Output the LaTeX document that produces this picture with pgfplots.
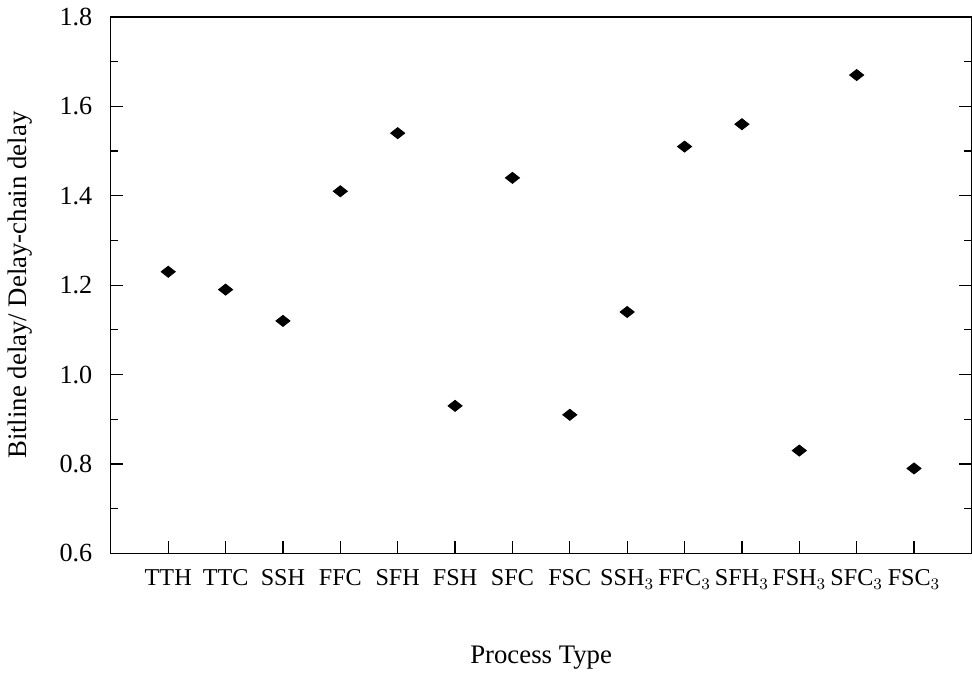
\documentclass[border=0pt]{standalone}
\usepackage{fontspec}
\setmainfont{Liberation Serif}
\usepackage{pgfplots}
\pgfplotsset{compat=1.18}

\begin{document}
\fontsize{12}{14}\selectfont
\begin{tikzpicture}
\begin{axis}[
    scale only axis,
    width=427.5pt, height=266.5pt,
    xmin=0, xmax=15,
    ymin=0.6, ymax=1.8,
    xtick={1,...,14},
    xticklabels={TTH,TTC,SSH,FFC,SFH,FSH,SFC,FSC,SSH$_3$,FFC$_3$,SFH$_3$,FSH$_3$,SFC$_3$,FSC$_3$},
    xtick pos=bottom,
    ytick={0.6,0.8,...,1.81},
    minor ytick={0.7,0.9,...,1.71},
    ytick pos=both,
    /pgf/number format/fixed,
    /pgf/number format/fixed zerofill,
    /pgf/number format/precision=1,
    /pgf/number format/assume math mode=true,
    tick align=inside,
    major tick length=6pt,
    minor tick length=3.5pt,
    tick style={black, line width=0.6pt},
    axis line style={line width=0.6pt},
    xticklabel style={yshift=-4pt},
    yticklabel style={xshift=-5pt, font=\fontsize{13}{15}\selectfont},
    xlabel={Process Type},
    ylabel={Bitline delay/ Delay-chain delay},
    xlabel style={at={(axis description cs:0.5,-0.195)}, anchor=center, font=\fontsize{13.3}{15}\selectfont},
    ylabel style={at={(axis description cs:-0.1053,0.5)}, anchor=center, font=\fontsize{13.3}{15}\selectfont},
]
\addplot[only marks, mark=diamond*, mark size=2.75pt, color=black,
    mark options={xscale=1.7}] coordinates {
    (1, 1.23)
    (2, 1.19)
    (3, 1.12)
    (4, 1.41)
    (5, 1.54)
    (6, 0.93)
    (7, 1.44)
    (8, 0.91)
    (9, 1.14)
    (10, 1.51)
    (11, 1.56)
    (12, 0.83)
    (13, 1.67)
    (14, 0.79)
};
\end{axis}
\end{tikzpicture}
\end{document}
